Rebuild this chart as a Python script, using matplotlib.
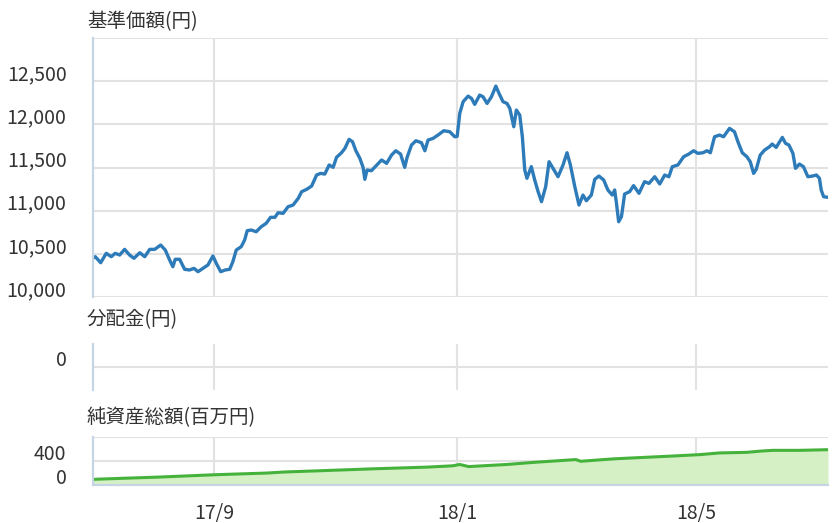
import matplotlib
matplotlib.use('Agg')
import matplotlib.pyplot as plt
import matplotlib.dates as mdates
from matplotlib.transforms import ScaledTranslation
import pandas as pd

plt.rcParams['font.family'] = ['Noto Sans CJK JP', 'DejaVu Sans']

# ---------------- data ----------------
base_date = '2017-09-01'
x_start_day = -60.65
x_end_day = 308.0

price_days = [-60.65, -59.5, -56.8, -54.0, -51.5, -49.5, -47.3, -44.8, -42.3, -40.1,
              -37.2, -34.7, -32.2, -29.7, -26.7, -24.4, -22.2, -20.6, -19.4, -17.2,
              -14.7, -12.2, -10.0, -8.0, -5.5, -3.0, -0.5, 1.2, 3.4, 5.7,
              7.9, 9.5, 11.2, 13.7, 15.4, 16.7, 18.7, 21.2, 23.7, 26.2,
              28.4, 30.6, 32.2, 34.7, 37.2, 39.7, 42.3, 44.0, 46.5, 49.0,
              51.5, 53.5, 55.6, 57.8, 59.8, 61.5, 64.0, 65.7, 67.8, 69.5,
              71.2, 73.2, 74.8, 75.7, 76.8, 79.0, 81.2, 84.1, 86.6, 89.1,
              91.2, 93.6, 95.7, 96.9, 99.1, 101.3, 104.1, 105.8, 107.4, 109.9,
              112.4, 115.3, 118.3, 120.8, 122.0, 123.3, 125.0, 127.5, 129.2, 130.8,
              133.3, 135.0, 137.0, 139.2, 141.4, 143.0, 145.0, 147.0, 148.4, 150.4,
              151.7, 153.4, 154.7, 155.9, 157.0, 159.2, 160.9, 162.6, 164.3, 166.4,
              168.1, 170.1, 172.6, 175.1, 177.1, 178.8, 181.0, 183.1, 185.1, 186.8,
              189.3, 191.0, 193.1, 195.5, 197.6, 199.8, 201.0, 201.9, 203.0, 204.4,
              206.0, 208.5, 210.5, 213.2, 216.0, 218.2, 221.1, 223.6, 226.1, 228.2,
              229.9, 232.7, 235.6, 238.2, 240.6, 242.7, 245.3, 247.3, 249.0, 251.1,
              253.6, 255.6, 258.6, 261.1, 262.8, 265.0, 267.3, 269.0, 270.7, 272.0,
              274.0, 276.2, 278.7, 280.0, 282.0, 285.1, 286.7, 288.4, 290.4, 291.7,
              293.7, 295.7, 297.9, 300.2, 302.2, 303.7, 304.6, 305.8, 308.0]
price_values = [10450, 10467, 10397, 10506, 10467, 10506, 10486, 10552, 10486, 10448,
                10513, 10467, 10552, 10552, 10602, 10544, 10428, 10351, 10437, 10437,
                10321, 10313, 10332, 10293, 10332, 10371, 10475, 10390, 10293, 10313,
                10321, 10409, 10544, 10583, 10660, 10768, 10776, 10756, 10814, 10853,
                10923, 10923, 10976, 10969, 11046, 11065, 11143, 11220, 11247, 11285,
                11413, 11432, 11424, 11529, 11502, 11618, 11671, 11722, 11826, 11799,
                11694, 11606, 11502, 11363, 11471, 11463, 11517, 11587, 11548, 11644,
                11694, 11656, 11502, 11618, 11760, 11810, 11787, 11694, 11818, 11837,
                11876, 11926, 11914, 11856, 11860, 12127, 12262, 12327, 12300, 12231,
                12339, 12319, 12242, 12319, 12443, 12358, 12262, 12242, 12185, 11972,
                12165, 12107, 11856, 11471, 11375, 11510, 11355, 11220, 11104, 11278,
                11567, 11490, 11393, 11529, 11671, 11529, 11278, 11065, 11181, 11115,
                11181, 11363, 11401, 11355, 11239, 11181, 11239, 11085, 10872, 10930,
                11193, 11220, 11290, 11201, 11336, 11316, 11393, 11309, 11413, 11393,
                11509, 11529, 11625, 11656, 11694, 11664, 11671, 11694, 11671, 11856,
                11876, 11856, 11953, 11914, 11799, 11671, 11625, 11567, 11432, 11479,
                11644, 11702, 11741, 11772, 11733, 11849, 11780, 11760, 11664, 11490,
                11540, 11509, 11393, 11401, 11413, 11375, 11239, 11162, 11154]

asset_days = [-60.65, -59.1, -27.1, 0.5, 26.6, 35.0, 53.1, 79.7, 106.8, 119.8, 123.3,
              127.8, 146.9, 159.9, 181.5, 184.0, 200.0, 213.5, 227.1, 243.6, 253.6,
              267.2, 275.2, 280.2, 293.7, 308.0]
asset_values = [92, 96, 132, 170, 198, 215, 236, 268, 296, 318, 340,
                305, 340, 374, 421, 393, 432, 454, 475, 503, 531,
                541, 564, 574, 574, 585]

price_ticks = [10000, 10500, 11000, 11500, 12000, 12500, 13000]
price_tick_labels = ['10,000', '10,500', '11,000', '11,500', '12,000', '12,500', '']
dist_ticks = [0]
dist_tick_labels = ['0']
asset_ticks = [0, 400, 800]
asset_tick_labels = ['0', '400', '']
date_ticks = ['2017-09-01', '2018-01-01', '2018-05-01']
date_tick_labels = ['17/9', '18/1', '18/5']

titles = ['基準価額(円)', '分配金(円)', '純資産総額(百万円)']

# ---------------- drawing ----------------
base = pd.Timestamp(base_date)
def to_dates(days):
    return base + pd.to_timedelta(days, unit='D')

price_x = to_dates(price_days)
asset_x = to_dates(asset_days)
xlim = (to_dates([x_start_day])[0], to_dates([x_end_day])[0])
tick_x = pd.to_datetime(date_ticks)

W, H = 832, 523
fig = plt.figure(figsize=(W / 100, H / 100), dpi=100)

def frac_axes(x0, y0, x1, y1):
    return fig.add_axes([x0 / W, 1 - y1 / H, (x1 - x0) / W, (y1 - y0) / H])

ax1 = frac_axes(93, 38, 828, 297)
ax2 = frac_axes(93, 344, 828, 390)
ax3 = frac_axes(93, 436.7, 828, 485)

grid_c = '#e2e2e2'
axis_c = '#c5d5e6'
text_c = '#333333'
fs = 14
offset = ScaledTranslation(0, 9 / 100, fig.dpi_scale_trans)

def style(ax, yticks, ylabels, ylim, bottom_spine=False):
    ax.set_xlim(*xlim)
    ax.set_ylim(*ylim)
    ax.set_axisbelow(True)
    for s in ['top', 'right', 'bottom']:
        ax.spines[s].set_visible(False)
    ax.spines['left'].set_color(axis_c)
    ax.spines['left'].set_linewidth(1.6)
    if bottom_spine:
        ax.spines['bottom'].set_visible(True)
        ax.spines['bottom'].set_color(axis_c)
        ax.spines['bottom'].set_linewidth(1.6)
    ax.set_yticks(yticks)
    ax.set_yticklabels(ylabels)
    ax.set_xticks(tick_x)
    ax.grid(True, color=grid_c, linewidth=1.5)
    ax.tick_params(axis='both', length=0, labelsize=fs, colors=text_c)
    ax.tick_params(axis='y', pad=19)
    for t in ax.yaxis.get_major_ticks():
        t.label1.set_transform(t.label1.get_transform() + offset)

style(ax1, price_ticks, price_tick_labels, (10000, 13000))
ax1.set_xticklabels([])
ax1.plot(price_x, price_values, color='#2d7bb9', linewidth=2.4, solid_joinstyle='round')

style(ax2, dist_ticks, dist_tick_labels, (-1, 1))
ax2.set_xticklabels([])

style(ax3, asset_ticks, asset_tick_labels, (0, 800), bottom_spine=True)
ax3.fill_between(asset_x, asset_values, 0, color='#d5f0c5', linewidth=0)
ax3.plot(asset_x, asset_values, color='#45b23c', linewidth=2.2)
ax3.set_xticklabels(date_tick_labels)
ax3.tick_params(axis='x', pad=13)

fig.text(87 / W, 1 - 22 / H, titles[0], ha='left', va='center', fontsize=fs, color=text_c)
fig.text(87 / W, 1 - 320 / H, titles[1], ha='left', va='center', fontsize=fs, color=text_c)
fig.text(87 / W, 1 - 418 / H, titles[2], ha='left', va='center', fontsize=fs, color=text_c)

fig.savefig('out.png', dpi=100)
